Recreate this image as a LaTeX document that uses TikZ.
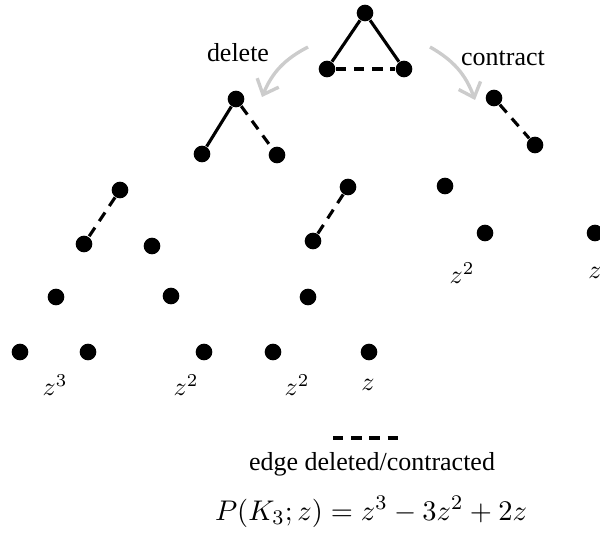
\documentclass[tikz,border=0pt]{standalone}
\usepackage[no-math]{fontspec}
\setmainfont{Liberation Serif}
\usetikzlibrary{arrows.meta,positioning}
\definecolor{Ink}{HTML}{000000}
\definecolor{PaleGray}{HTML}{CCCCCC}
\tikzset{
  vtx/.style={circle,fill=Ink,inner sep=0pt,minimum size=6.4pt},
  keepline/.style={line width=1.2pt,draw=Ink},
  cutline/.style={line width=1.2pt,draw=Ink,dash pattern=on 4pt off 3pt},
  opflow/.style={-{Straight Barb[length=5pt,width=9pt]},line width=1.3pt,draw=PaleGray},
  poly/.style={inner sep=1pt}
}

\begin{document}
\begin{tikzpicture}[x=0.385pt,y=-0.385pt]
  \useasboundingbox (0,0) rectangle (600,532);
  % K_3
  \node[vtx] (k1) at (365,13) {};
  \node[vtx] (k2) at (327,69) {};
  \node[vtx] (k3) at (404,69) {};
  \draw[keepline] (k1) -- (k2);
  \draw[keepline] (k1) -- (k3);
  \draw[cutline] (k2) -- (k3);
  % first step
  \node[vtx] (d1) at (236,99) {};
  \node[vtx] (d2) at (202,154) {};
  \node[vtx] (d3) at (277,155) {};
  \draw[keepline] (d1) -- (d2);
  \draw[cutline] (d1) -- (d3);
  \node[vtx] (c1) at (494,98) {};
  \node[vtx] (c2) at (535,145) {};
  \draw[cutline] (c1) -- (c2);
  % second step
  \node[vtx] (dd1) at (120,190) {};
  \node[vtx] (dd2) at (84,244) {};
  \node[vtx] (dd3) at (152,246) {};
  \draw[cutline] (dd1) -- (dd2);
  \node[vtx] (dc1) at (348,187) {};
  \node[vtx] (dc2) at (313,241) {};
  \draw[cutline] (dc1) -- (dc2);
  \node[vtx] (cd1) at (445,186) {};
  \node[vtx] (cd2) at (485,233) {};
  \node[vtx] (cc1) at (595,233) {};
  % third step
  \node[vtx] (ddd1) at (56,297) {};
  \node[vtx] (ddd2) at (20,352) {};
  \node[vtx] (ddd3) at (88,352) {};
  \node[vtx] (ddc1) at (171,296) {};
  \node[vtx] (ddc2) at (204,352) {};
  \node[vtx] (dcd1) at (308,297) {};
  \node[vtx] (dcd2) at (273,352) {};
  \node[vtx] (dcc1) at (369,352) {};
  % terms
  \node[poly] (p1) at (55,385) {$z^3$};
  \node[poly] (p2) at (186,385) {$z^2$};
  \node[poly] (p3) at (297,385) {$z^2$};
  \node[poly] (p4) at (368,385) {$z$};
  \node[poly] (p5) at (462,273) {$z^2$};
  \node[poly] (p6) at (595,273) {$z$};
  % operations
  \coordinate (delfrom) at (308,47);
  \coordinate (delto) at (262,97);
  \coordinate (confrom) at (430,47);
  \coordinate (conto) at (475,100);
  \draw[opflow] (delfrom) to[bend right=20] (delto);
  \draw[opflow] (confrom) to[bend left=20] (conto);
  \node (deltext) at (238,53) {delete};
  \node (context) at (503,58) {contract};
  % legend
  \coordinate (leg1) at (333,438);
  \coordinate (leg2) at (404,438);
  \draw[cutline] (leg1) -- (leg2);
  \node (legtext) at (372,464) {edge deleted/contracted};
  \node (chrom) at (371,512) {\fontsize{11.2}{13}\selectfont $P(K_3;z)=z^3-3z^2+2z$};
\end{tikzpicture}
\end{document}
